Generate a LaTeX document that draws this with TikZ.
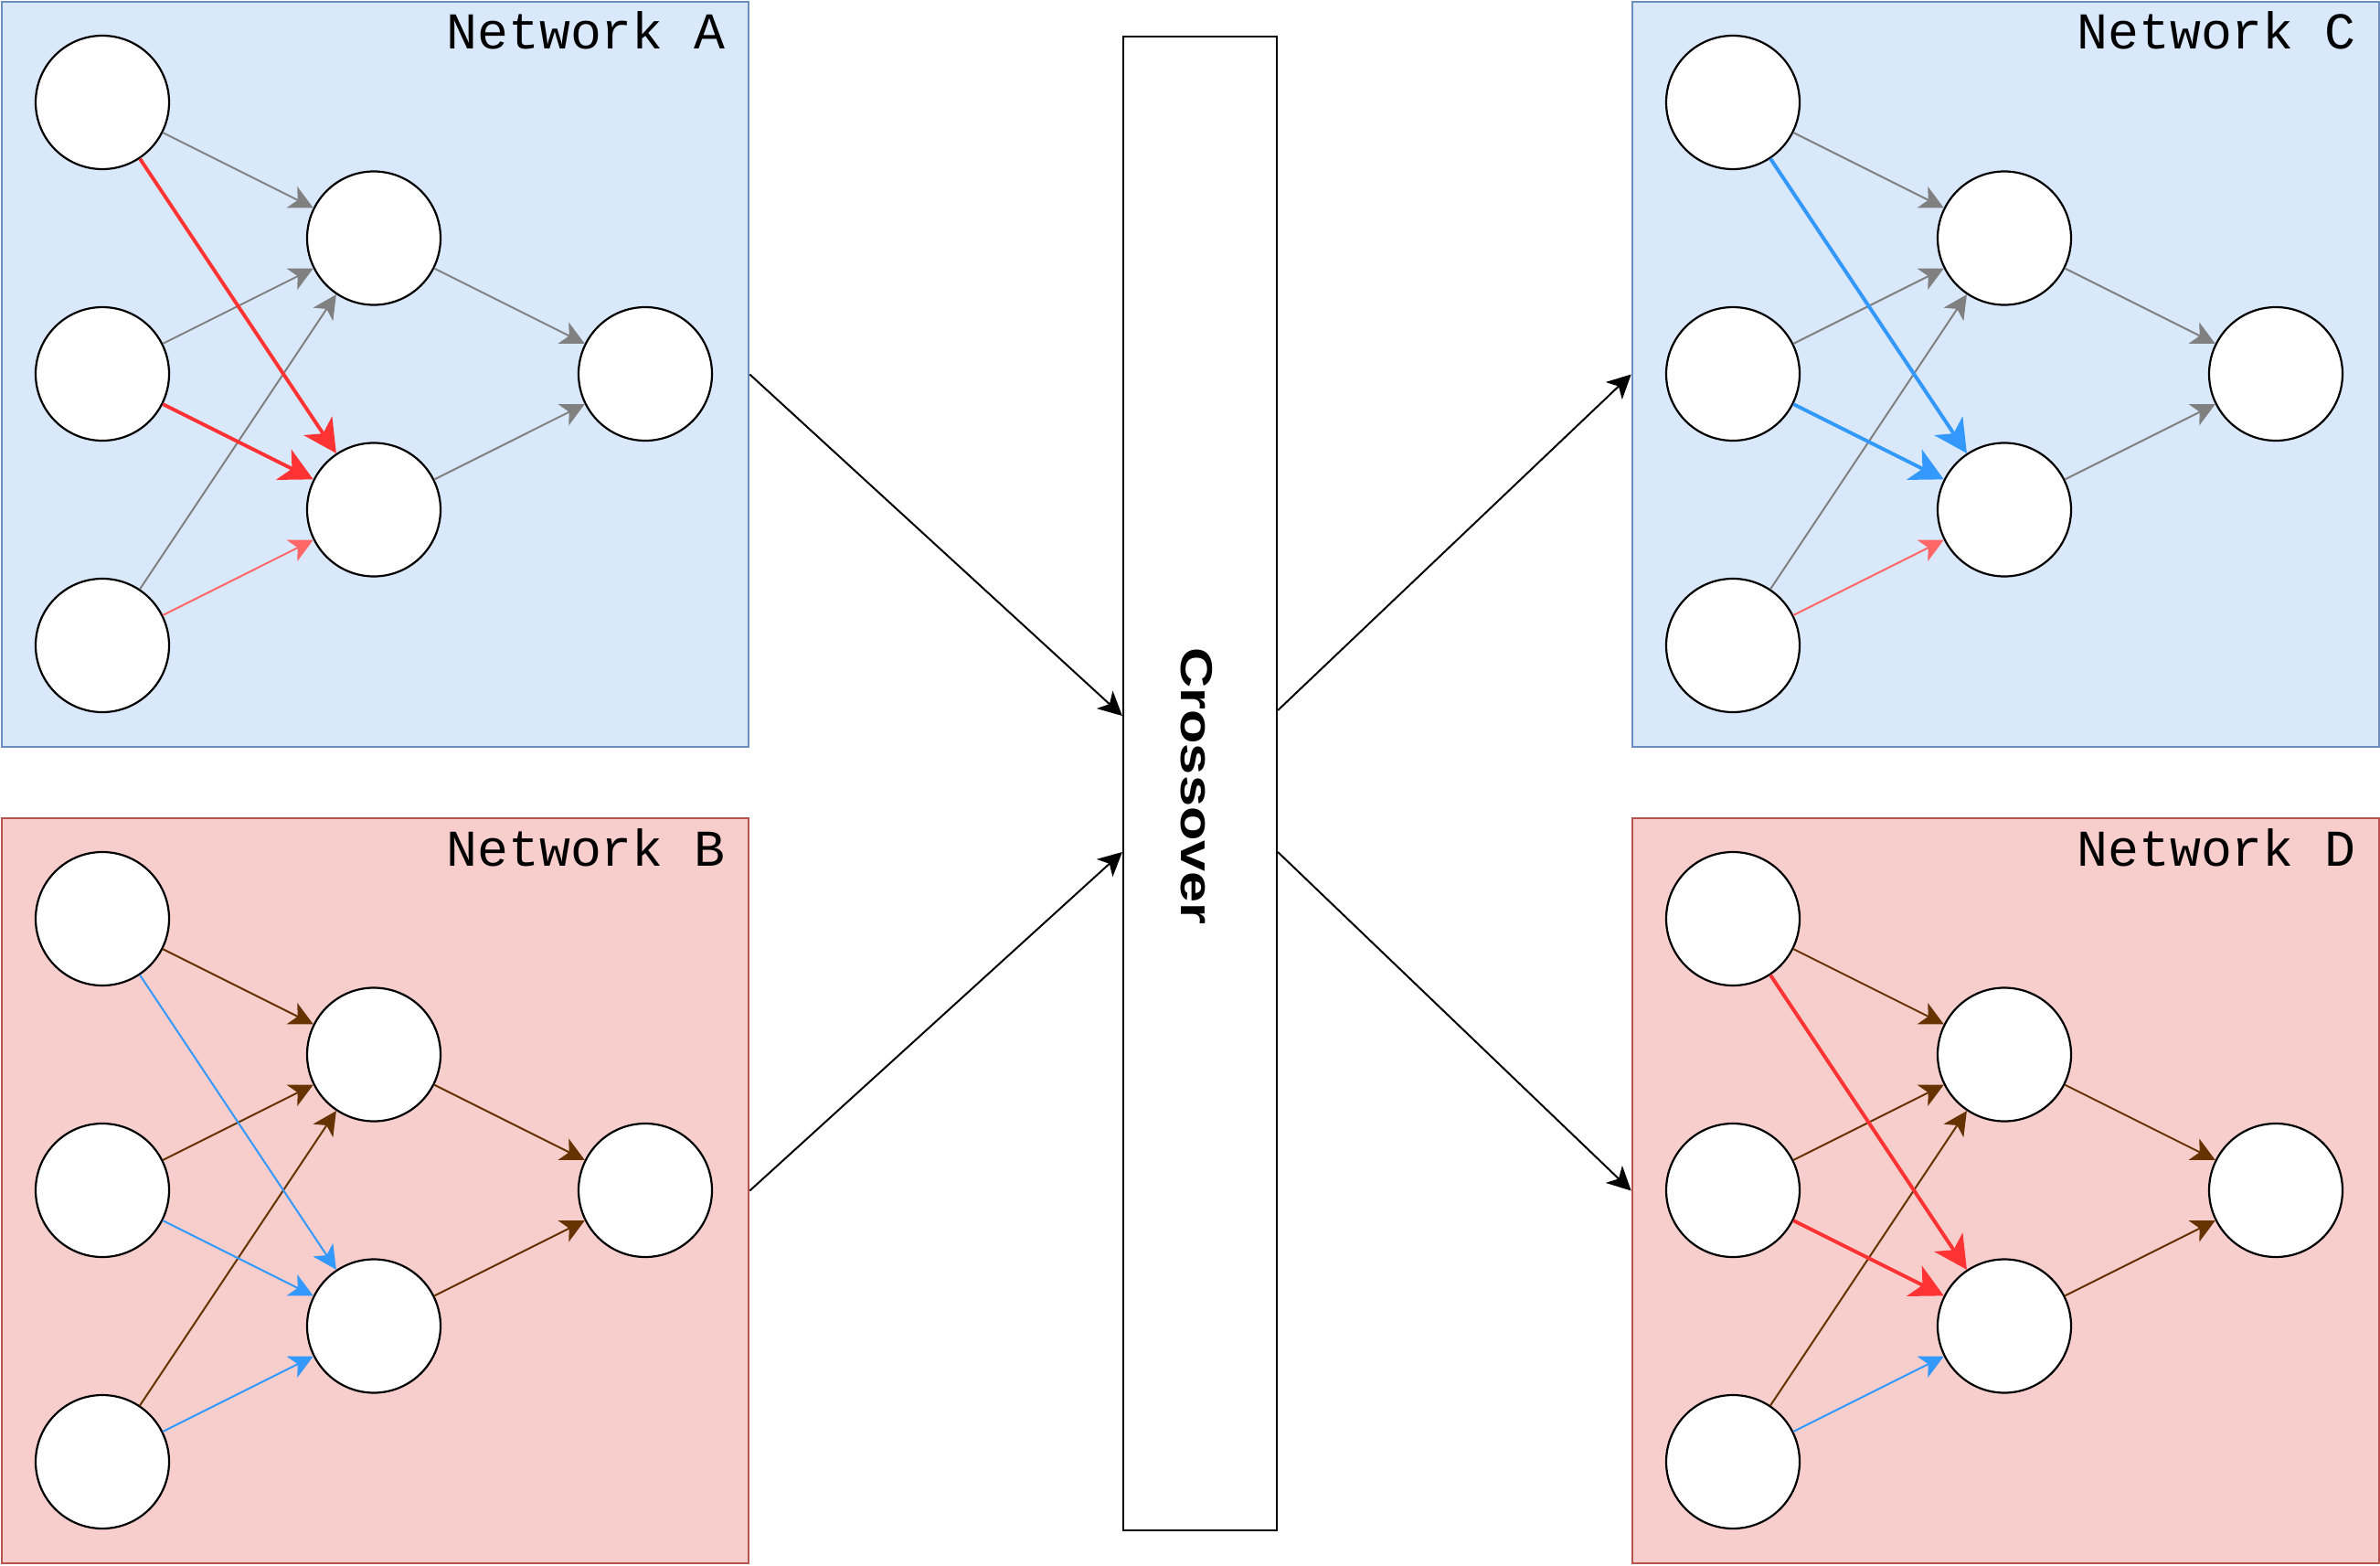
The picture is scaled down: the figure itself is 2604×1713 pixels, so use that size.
\documentclass[tikz,border=0pt]{standalone}
\usepackage{fontspec}
\newfontfamily\netfont{Liberation Mono}
\newfontfamily\xofont{Liberation Sans}
\usetikzlibrary{arrows.meta}
\definecolor{bluefill}{HTML}{DAE8FC}
\definecolor{blueline}{HTML}{6C8EBF}
\definecolor{redfill}{HTML}{F8CECC}
\definecolor{redline}{HTML}{B85450}
\definecolor{hotred}{HTML}{FF3333}
\definecolor{softred}{HTML}{FF6666}
\definecolor{skyblue}{HTML}{3399FF}
\definecolor{brownc}{HTML}{663300}
\definecolor{grayc}{HTML}{808080}
\begin{document}
\begin{tikzpicture}[x=0.5pt,y=-0.5pt,
  neuron/.style={circle,draw=black,fill=white,line width=1.1pt,minimum size=73pt,inner sep=0pt},
  lnk/.style={line width=1pt,-{Stealth[length=13pt,width=13pt,inset=3.5pt]}},
  hvy/.style={line width=2pt,-{Stealth[length=18pt,width=18.5pt,inset=5pt]}},
  panelblue/.style={rectangle,draw=blueline,fill=bluefill,line width=1.3pt,minimum width=408.5pt,minimum height=407.5pt,inner sep=0pt},
  panelred/.style={rectangle,draw=redline,fill=redfill,line width=1.3pt,minimum width=408.5pt,minimum height=407.5pt,inner sep=0pt},
  netlabel/.style={anchor=base east,inner sep=0pt,font=\netfont\fontsize{28.25}{31}\selectfont},
  crossbox/.style={rectangle,draw=black,fill=white,line width=1.1pt,minimum width=84pt,minimum height=817pt,inner sep=0pt},
  flow/.style={line width=1pt,draw=black,-{Stealth[length=13pt,width=13pt,inset=3.5pt]}}
]
\useasboundingbox (0,0) rectangle (2604,1713);

% panels
\node[panelblue] (netA) at (410.5,409.5) {};
\node[panelred]  (netB) at (410.5,1302.5) {};
\node[panelblue] (netC) at (2194.5,409.5) {};
\node[panelred]  (netD) at (2194.5,1302.5) {};

\node[netlabel] (labA) at (794,54) {Network A};
\node[netlabel] (labB) at (794,947) {Network B};
\node[netlabel] (labC) at (2578,54) {Network C};
\node[netlabel] (labD) at (2578,947) {Network D};

% neurons
\foreach \n/\dx/\dy in {A/0/0, B/0/893, C/1784/0, D/1784/893} {
  \node[neuron] (\n i1) at (112+\dx,112+\dy) {};
  \node[neuron] (\n i2) at (112+\dx,409+\dy) {};
  \node[neuron] (\n i3) at (112+\dx,706+\dy) {};
  \node[neuron] (\n h1) at (409+\dx,260.5+\dy) {};
  \node[neuron] (\n h2) at (409+\dx,557.5+\dy) {};
  \node[neuron] (\n o)  at (706+\dx,409+\dy) {};
}

% Network A
\draw[lnk,grayc] (Ai1) -- (Ah1);
\draw[lnk,grayc] (Ai2) -- (Ah1);
\draw[lnk,grayc] (Ai3) -- (Ah1);
\draw[lnk,grayc] (Ah1) -- (Ao);
\draw[lnk,grayc] (Ah2) -- (Ao);
\draw[lnk,softred] (Ai3) -- (Ah2);
\draw[hvy,hotred] (Ai1) -- (Ah2);
\draw[hvy,hotred] (Ai2) -- (Ah2);

% Network B
\draw[lnk,brownc] (Bi1) -- (Bh1);
\draw[lnk,brownc] (Bi2) -- (Bh1);
\draw[lnk,brownc] (Bi3) -- (Bh1);
\draw[lnk,brownc] (Bh1) -- (Bo);
\draw[lnk,brownc] (Bh2) -- (Bo);
\draw[lnk,skyblue] (Bi1) -- (Bh2);
\draw[lnk,skyblue] (Bi2) -- (Bh2);
\draw[lnk,skyblue] (Bi3) -- (Bh2);

% Network C
\draw[lnk,grayc] (Ci1) -- (Ch1);
\draw[lnk,grayc] (Ci2) -- (Ch1);
\draw[lnk,grayc] (Ci3) -- (Ch1);
\draw[lnk,grayc] (Ch1) -- (Co);
\draw[lnk,grayc] (Ch2) -- (Co);
\draw[lnk,softred] (Ci3) -- (Ch2);
\draw[hvy,skyblue] (Ci1) -- (Ch2);
\draw[hvy,skyblue] (Ci2) -- (Ch2);

% Network D
\draw[lnk,brownc] (Di1) -- (Dh1);
\draw[lnk,brownc] (Di2) -- (Dh1);
\draw[lnk,brownc] (Di3) -- (Dh1);
\draw[lnk,brownc] (Dh1) -- (Do);
\draw[lnk,brownc] (Dh2) -- (Do);
\draw[lnk,skyblue] (Di3) -- (Dh2);
\draw[hvy,hotred] (Di1) -- (Dh2);
\draw[hvy,hotred] (Di2) -- (Dh2);

% crossover
\node[crossbox] (cross) at (1313,857) {};
\node[rotate=-90,inner sep=0pt,font=\xofont\bfseries\fontsize{24.5}{28}\selectfont] (crosstext) at (1309,860) {\scalebox{1.25}[1]{Crossover}};

\draw[flow] (netA.east) -- ([yshift=37pt]cross.west);
\draw[flow] (netB.east) -- ([yshift=-37.5pt]cross.west);
\draw[flow] ([yshift=40pt]cross.east) -- (netC.west);
\draw[flow] ([yshift=-37.5pt]cross.east) -- (netD.west);
\end{tikzpicture}
\end{document}
